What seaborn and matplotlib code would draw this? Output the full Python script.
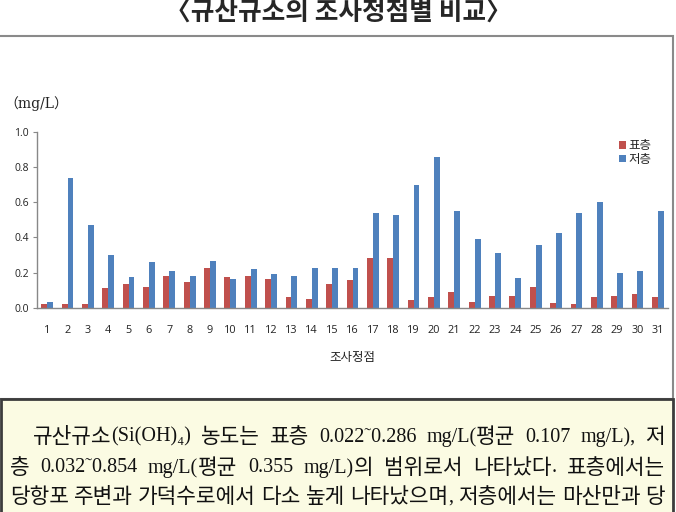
#%% import tools and libraries
import numpy as np
import pandas as pd
import seaborn as sb
import matplotlib.pyplot as plt
from matplotlib.patches import Rectangle

#%% data
stations = [str(i) for i in range(1, 32)]
surface = [0.022, 0.024, 0.023, 0.114, 0.136, 0.119, 0.184, 0.148, 0.227, 0.174,
           0.184, 0.163, 0.061, 0.049, 0.136, 0.157, 0.282, 0.286, 0.045, 0.062,
           0.089, 0.036, 0.066, 0.066, 0.119, 0.030, 0.025, 0.062, 0.066, 0.080,
           0.062]
bottom = [0.032, 0.735, 0.473, 0.303, 0.178, 0.259, 0.212, 0.184, 0.269, 0.167,
          0.222, 0.195, 0.184, 0.227, 0.227, 0.227, 0.538, 0.528, 0.699, 0.854,
          0.549, 0.394, 0.314, 0.169, 0.356, 0.426, 0.538, 0.602, 0.201, 0.212,
          0.549]
layers = ['표층', '저층']
y_ticks = [0.0, 0.2, 0.4, 0.6, 0.8, 1.0]

title = '〈규산규소의 조사정점별 비교〉'
unit = '（mg/L）'
xlabel = '조사정점'
para = [
    '규산규소(Si(OH)₄) 농도는 표층 0.022˜0.286 mg/L(평균 0.107 mg/L), 저',
    '층 0.032˜0.854 mg/L(평균 0.355 mg/L)의 범위로서 나타났다. 표층에서는',
    '당항포 주변과 가덕수로에서 다소 높게 나타났으며, 저층에서는 마산만과 당',
]

df = pd.DataFrame({
    'station': stations * 2,
    'value': surface + bottom,
    'layer': [layers[0]] * len(stations) + [layers[1]] * len(stations),
})

#%% style
sb.set_style('white')
plt.rcParams['font.family'] = ['Open Sans', 'Noto Sans CJK KR', 'DejaVu Sans']
red = '#C0504D'
blue = '#4F81BD'
W, H = 676, 512

fig = plt.figure(figsize=(W / 100, H / 100), dpi=100)

# frames: chart box and yellow text box
fig.patches.append(Rectangle((-2 / W, (H - 399) / H), 675 / W, 363 / H,
                             transform=fig.transFigure, fill=False,
                             edgecolor='#8a8a8a', lw=1.5))
fig.patches.append(Rectangle((1 / W, -0.01), 672 / W, (H - 399) / H + 0.01,
                             transform=fig.transFigure, facecolor='#FBFBE3',
                             edgecolor='#3c3c3c', lw=2))

#%% bar chart
ax = fig.add_axes([37 / W, (H - 308) / H, 631 / W, 176.3 / H])
sb.barplot(data=df, x='station', y='value', hue='layer', palette=[red, blue],
           width=0.58, saturation=1, linewidth=0, ax=ax)
ax.set_xlim(-0.5, len(stations) - 0.5)
ax.set_ylim(0, 1.0)
ax.set_yticks(y_ticks)
ax.set_yticklabels([f'{v:.1f}' for v in y_ticks], fontsize=7.5, color='#222222')
ax.set_xticks(range(len(stations)))
ax.set_xticklabels(stations, fontsize=7.8, color='#222222')
ax.set_xticks(np.arange(-0.5, len(stations)), minor=True)
ax.tick_params(axis='x', which='major', length=0, pad=12)
ax.tick_params(axis='x', which='minor', length=3, color='#888888', direction='out')
ax.tick_params(axis='y', length=3, color='#888888', direction='out', left=True, pad=3)
for s in ['top', 'right']:
    ax.spines[s].set_visible(False)
for s in ['left', 'bottom']:
    ax.spines[s].set_color('#888888')
    ax.spines[s].set_linewidth(1)
ax.set_xlabel(xlabel, fontsize=9, labelpad=11, color='#222222')
ax.set_ylabel('')
ax.legend(loc='upper left', bbox_to_anchor=(0.915, 0.985), frameon=False,
          fontsize=9, handlelength=0.55, handleheight=0.55, handletextpad=0.2,
          labelspacing=0.05, borderaxespad=0)

#%% texts
fig.text(0.5, 1 - 13 / H, title, ha='center', va='center', fontsize=18.5,
         fontweight='bold', family=['Noto Sans CJK KR', 'DejaVu Sans'])
fig.text(4 / W, 1 - 104 / H, unit, ha='left', va='center', fontsize=10,
         family=['DejaVu Serif', 'Noto Sans CJK KR'], color='#222222')


def runs(word):
    # split a word into hangul / other runs
    out = []
    for ch in word:
        kind = '\uac00' <= ch <= '\ud7a3'
        if out and out[-1][0] == kind:
            out[-1][1] += ch
        else:
            out.append([kind, ch])
    return out


# justified paragraph lines
renderer = fig.canvas.get_renderer()
line_y = [437, 468, 497]
line_x0 = [33, 10, 10]
x1 = 665
for txt, yy, xx in zip(para, line_y, line_x0):
    words = []
    for w in txt.split(' '):
        parts = []
        for kor, s in runs(w):
            if kor:
                t = fig.text(0, 1 - yy / H, s, ha='left', va='center', fontsize=15.4,
                             family=['Noto Sans CJK KR'], color='#111111')
            else:
                t = fig.text(0, 1 - yy / H, s, ha='left', va='center', fontsize=14.5,
                             family=['Liberation Serif', 'DejaVu Serif', 'Noto Sans CJK KR'],
                             color='#111111')
            parts.append((t, t.get_window_extent(renderer).width))
        words.append(parts)
    total = sum(wd for p in words for _, wd in p)
    gap = (x1 - xx - total) / (len(words) - 1)
    pos = xx
    for parts in words:
        for t, wd in parts:
            t.set_x(pos / W)
            pos += wd
        pos += gap

fig.savefig('out.png', dpi=100)
